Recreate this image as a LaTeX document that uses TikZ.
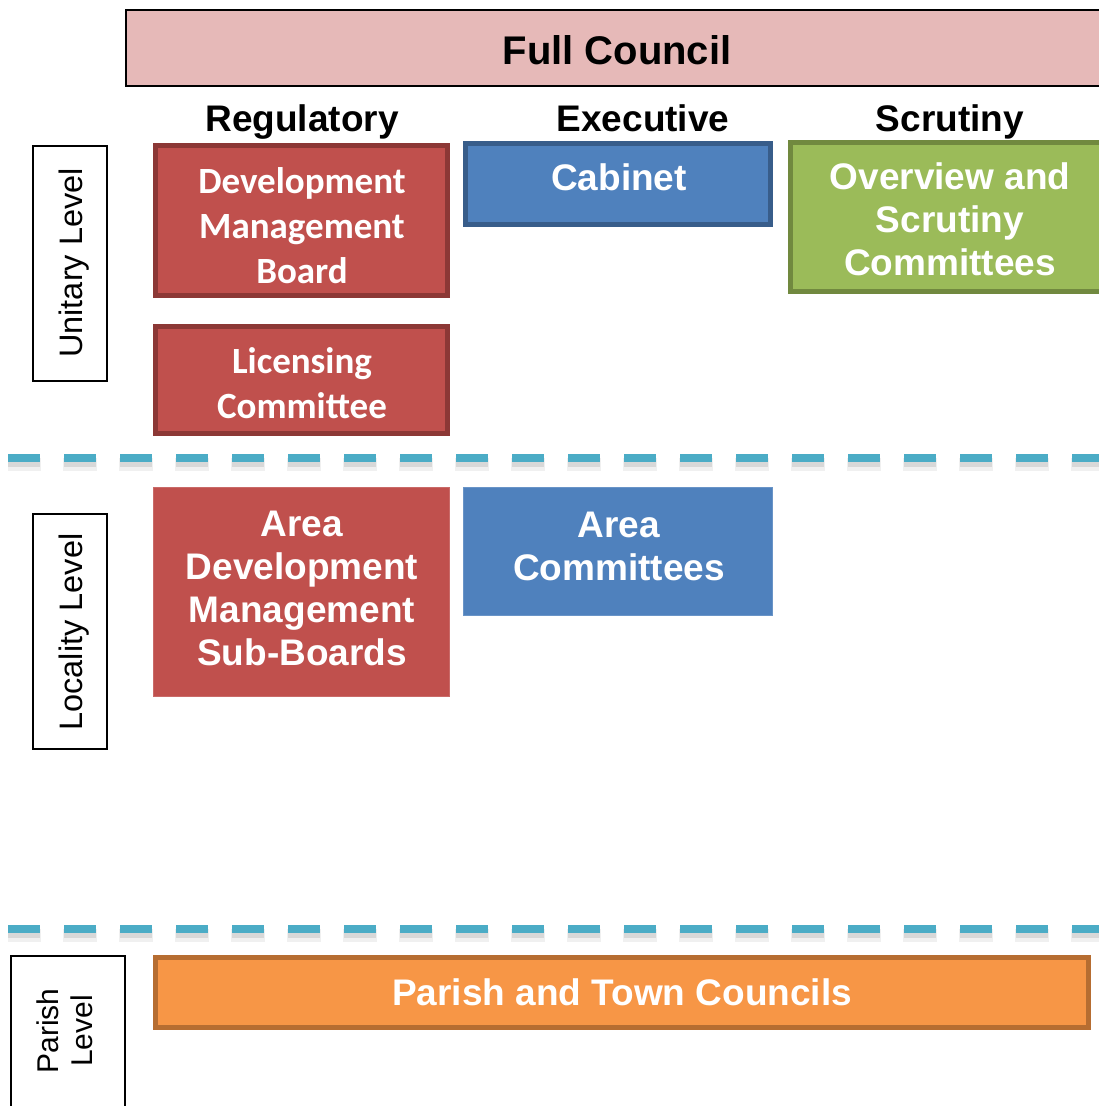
\documentclass[tikz,border=0pt]{standalone}
\usepackage{fontspec}
\setmainfont{Liberation Sans}
\newfontfamily\calfont{Carlito}
\usetikzlibrary{positioning}
\definecolor{fullfill}{HTML}{E6B9B8}
\definecolor{redfill}{HTML}{C0504D}
\definecolor{redline}{HTML}{8C3836}
\definecolor{bluefill}{HTML}{4F81BD}
\definecolor{blueline}{HTML}{385D8A}
\definecolor{greenfill}{HTML}{9BBB59}
\definecolor{greenline}{HTML}{71893F}
\definecolor{orangefill}{HTML}{F79646}
\definecolor{orangeline}{HTML}{B66D31}
\definecolor{dashcol}{HTML}{4BACC6}
\newcommand{\mlines}[1]{\begin{tabular}[t]{@{}c@{}}#1\end{tabular}}
\tikzset{
  box/.style={rectangle, inner sep=0pt, outer sep=0pt},
  thickbox/.style={box, line width=5pt},
  thinbox/.style={box, line width=1pt},
  levelbox/.style={box, draw=black, line width=2pt, fill=white},
  arialtext/.style={inner sep=0pt, anchor=base, text=white, font=\fontsize{37}{43}\selectfont\bfseries},
  calibritext/.style={inner sep=0pt, anchor=base, text=white, font=\calfont\fontsize{37}{45}\selectfont\bfseries},
  headtext/.style={inner sep=0pt, anchor=base, text=black, font=\fontsize{37}{43}\selectfont\bfseries},
  leveltext/.style={inner sep=0pt, anchor=base, rotate=90, text=black, font=\fontsize{32.5}{36}\selectfont},
  sepline/.style={draw=dashcol, line width=7.5pt, dash pattern=on 32pt off 24pt},
  sepshadowa/.style={draw=black, opacity=0.06, line width=13pt, dash pattern=on 34pt off 22pt, dash phase=1pt},
  sepshadowb/.style={draw=black, opacity=0.10, line width=7pt, dash pattern=on 32pt off 24pt},
}
\begin{document}
\begin{tikzpicture}[x=1pt, y=-1pt]
\useasboundingbox (0,0) rectangle (1099,1106);

% separators
\coordinate (d1s) at (8,458);
\coordinate (d1e) at (1120,458);
\coordinate (d2s) at (8,929);
\coordinate (d2e) at (1120,929);
\draw[sepshadowa] ([yshift=-6pt]d1s) -- ([yshift=-6pt]d1e);
\draw[sepshadowb] ([yshift=-5pt]d1s) -- ([yshift=-5pt]d1e);
\draw[sepshadowa] ([yshift=-6pt]d2s) -- ([yshift=-6pt]d2e);
\draw[sepshadowb] ([yshift=-5pt]d2s) -- ([yshift=-5pt]d2e);
\draw[sepline] (d1s) -- (d1e);
\draw[sepline] (d2s) -- (d2e);

% full council
\node[box, draw=black, line width=2pt, fill=fullfill, minimum width=986pt, minimum height=76pt] (full) at (619,48) {};
\node[headtext, font=\fontsize{40}{46}\selectfont\bfseries] (fulltxt) at (617,64) {Full Council};

% column headings
\node[headtext] (hreg) at (302,131) {Regulatory};
\node[headtext] (hexe) at (643,131) {Executive};
\node[headtext] (hscr) at (950,131) {Scrutiny};

% level boxes
\node[levelbox, minimum width=74pt, minimum height=235pt] (unit) at (70,263.5) {};
\node[leveltext] (unittxt) at (82,263) {Unitary Level};
\node[levelbox, minimum width=74pt, minimum height=235pt] (loc) at (70,631.5) {};
\node[leveltext] (loctxt) at (82,632) {Locality Level};
\node[levelbox, minimum width=114pt, minimum height=159pt] (par) at (68,1035.5) {};
\node[inner sep=0pt, rotate=90, align=center, font=\fontsize{30}{34}\selectfont] (partxt) at (65,1031) {Parish\\Level};

% regulatory
\node[thickbox, draw=redline, fill=redfill, minimum width=292pt, minimum height=150pt] (dmb) at (301.5,220.5) {};
\node[calibritext] (dmbtxt) at (302,193) {\mlines{Development\\Management\\Board}};
\node[thickbox, draw=redline, fill=redfill, minimum width=292pt, minimum height=107pt] (lic) at (301.5,380) {};
\node[calibritext] (lictxt) at (302,373) {\mlines{Licensing\\Committee}};
\node[thinbox, draw=redfill!85!white, fill=redfill, minimum width=296pt, minimum height=209pt] (adm) at (301.5,592) {};
\node[arialtext] (admtxt) at (302,536) {\mlines{Area\\Development\\Management\\Sub-Boards}};

% executive
\node[thickbox, draw=blueline, fill=bluefill, minimum width=305pt, minimum height=81pt] (cab) at (618,184) {};
\node[arialtext] (cabtxt) at (619,190) {Cabinet};
\node[thinbox, draw=bluefill!85!white, fill=bluefill, minimum width=309pt, minimum height=128pt] (acm) at (618,551.5) {};
\node[arialtext] (acmtxt) at (619,537) {\mlines{Area\\Committees}};

% scrutiny
\node[thickbox, draw=greenline, fill=greenfill, minimum width=321.5pt, minimum height=149pt] (ovs) at (951.25,217) {};
\node[arialtext] (ovstxt) at (950,189) {\mlines{Overview and\\Scrutiny\\Committees}};

% parish
\node[thickbox, draw=orangeline, fill=orangefill, minimum width=933pt, minimum height=70pt] (ptc) at (622,992.5) {};
\node[arialtext] (ptctxt) at (622,1005) {Parish and Town Councils};
\end{tikzpicture}
\end{document}
